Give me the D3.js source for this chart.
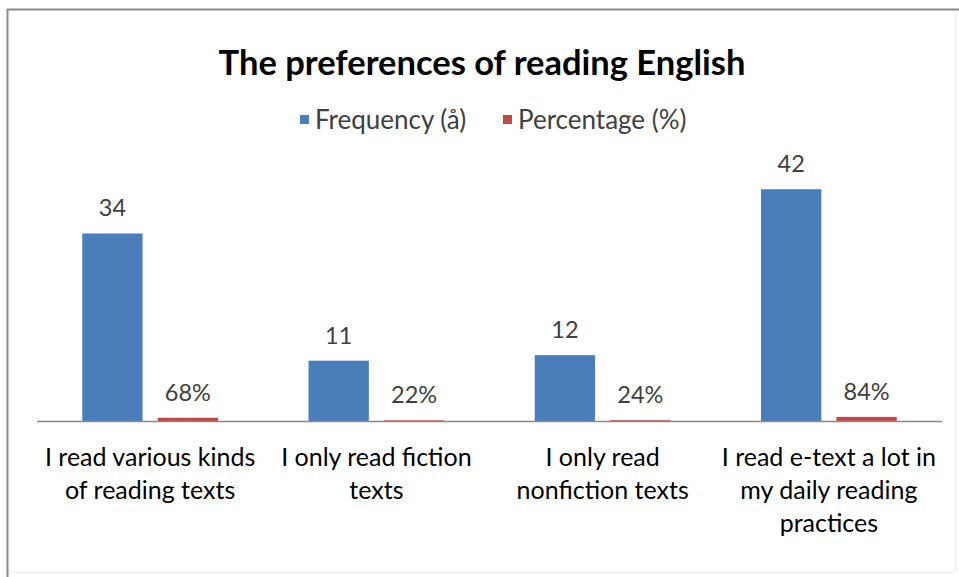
<!DOCTYPE html>
<html><head><meta charset="utf-8">
<script src="https://cdn.jsdelivr.net/npm/d3@7"></script>
<style>body{margin:0;background:#fff}svg{display:block}</style>
</head><body>
<svg id="c" width="959" height="577"></svg>
<script>
const categories = [
  ["I read various kinds", "of reading texts"],
  ["I only read fiction", "texts"],
  ["I only read", "nonfiction texts"],
  ["I read e-text a lot in", "my daily reading", "practices"]
];
const seriesNames = ["Frequency (å)", "Percentage (%)"];
const frequency = [34, 11, 12, 42];
const percentage = [0.68, 0.22, 0.24, 0.84];
const percentLabels = ["68%", "22%", "24%", "84%"];
const colors = ["#4A7EBB", "#BE4B48"];
const yMax = 45;

(function(){
const svg = d3.select("#c");
const font = "Lato, 'Open Sans', sans-serif";

// chart frame
svg.append("rect").attr("x",0).attr("y",0).attr("width",959).attr("height",577).attr("fill","#fff");
svg.append("line").attr("x1",7).attr("x2",959).attr("y1",9.5).attr("y2",9.5).attr("stroke","#8a8a8a").attr("stroke-width",2);
svg.append("line").attr("x1",7.5).attr("x2",7.5).attr("y1",9).attr("y2",577).attr("stroke","#8a8a8a").attr("stroke-width",2);
svg.append("line").attr("x1",955.5).attr("x2",955.5).attr("y1",12).attr("y2",573).attr("stroke","#eeeeee").attr("stroke-width",1);
svg.append("line").attr("x1",10).attr("x2",956).attr("y1",572.5).attr("y2",572.5).attr("stroke","#eeeeee").attr("stroke-width",1);

const plotLeft = 37, plotRight = 942, base = 421.5, plotTop = base - 5.53*yMax;
const idx = d3.range(categories.length);
const x0 = d3.scaleBand().domain(idx).range([plotLeft, plotRight]).paddingInner(0.4).paddingOuter(0.2);
const x1 = d3.scaleBand().domain([0,1]).range([0, x0.bandwidth()]).paddingInner(0.2);
const y = d3.scaleLinear().domain([0, yMax]).range([base, plotTop]);

// title
svg.append("text").attr("x",482).attr("y",75).attr("text-anchor","middle")
  .attr("font-family",font).attr("font-weight","bold").attr("font-size",34.5).attr("fill","#000")
  .text("The preferences of reading English");

// legend
const leg = svg.append("g").attr("font-family",font).attr("font-size",26);
const legX = [300, 503];
seriesNames.forEach((n,i)=>{
  leg.append("rect").attr("x",legX[i]).attr("y",115).attr("width",9).attr("height",9).attr("fill",colors[i]);
  leg.append("text").attr("x",legX[i]+15).attr("y",129).attr("fill","#404040").text(n);
});

const data = [frequency, percentage];
const labels = [frequency.map(String), percentLabels];

const g = svg.append("g");
data.forEach((vals, s)=>{
  g.selectAll(null).data(vals).enter().append("rect")
    .attr("x",(d,i)=>x0(i)+x1(s))
    .attr("width",x1.bandwidth())
    .attr("y",d=>y(d))
    .attr("height",d=>base-y(d))
    .attr("fill",colors[s]);
  g.selectAll(null).data(vals).enter().append("text")
    .attr("x",(d,i)=>x0(i)+x1(s)+x1.bandwidth()/2)
    .attr("y",d=>y(d)-17)
    .attr("text-anchor","middle")
    .attr("font-family",font).attr("font-size",23.5).attr("fill","#404040")
    .text((d,i)=>labels[s][i]);
});

// axis
const axis = d3.axisBottom(x0).tickSize(0).tickFormat("");
const ax = svg.append("g").attr("transform",`translate(0,${base})`).call(axis);
ax.select(".domain").attr("stroke","#8a8a8a").attr("stroke-width",1.5).attr("d",`M${plotLeft},0H${plotRight}`);

// category labels
categories.forEach((lines,i)=>{
  const t = svg.append("text").attr("text-anchor","middle")
    .attr("font-family",font).attr("font-size",25).attr("fill","#000");
  lines.forEach((ln,j)=>{
    t.append("tspan").attr("x",x0(i)+x0.bandwidth()/2).attr("y",466+j*33).text(ln);
  });
});
})();
</script>
</body></html>
